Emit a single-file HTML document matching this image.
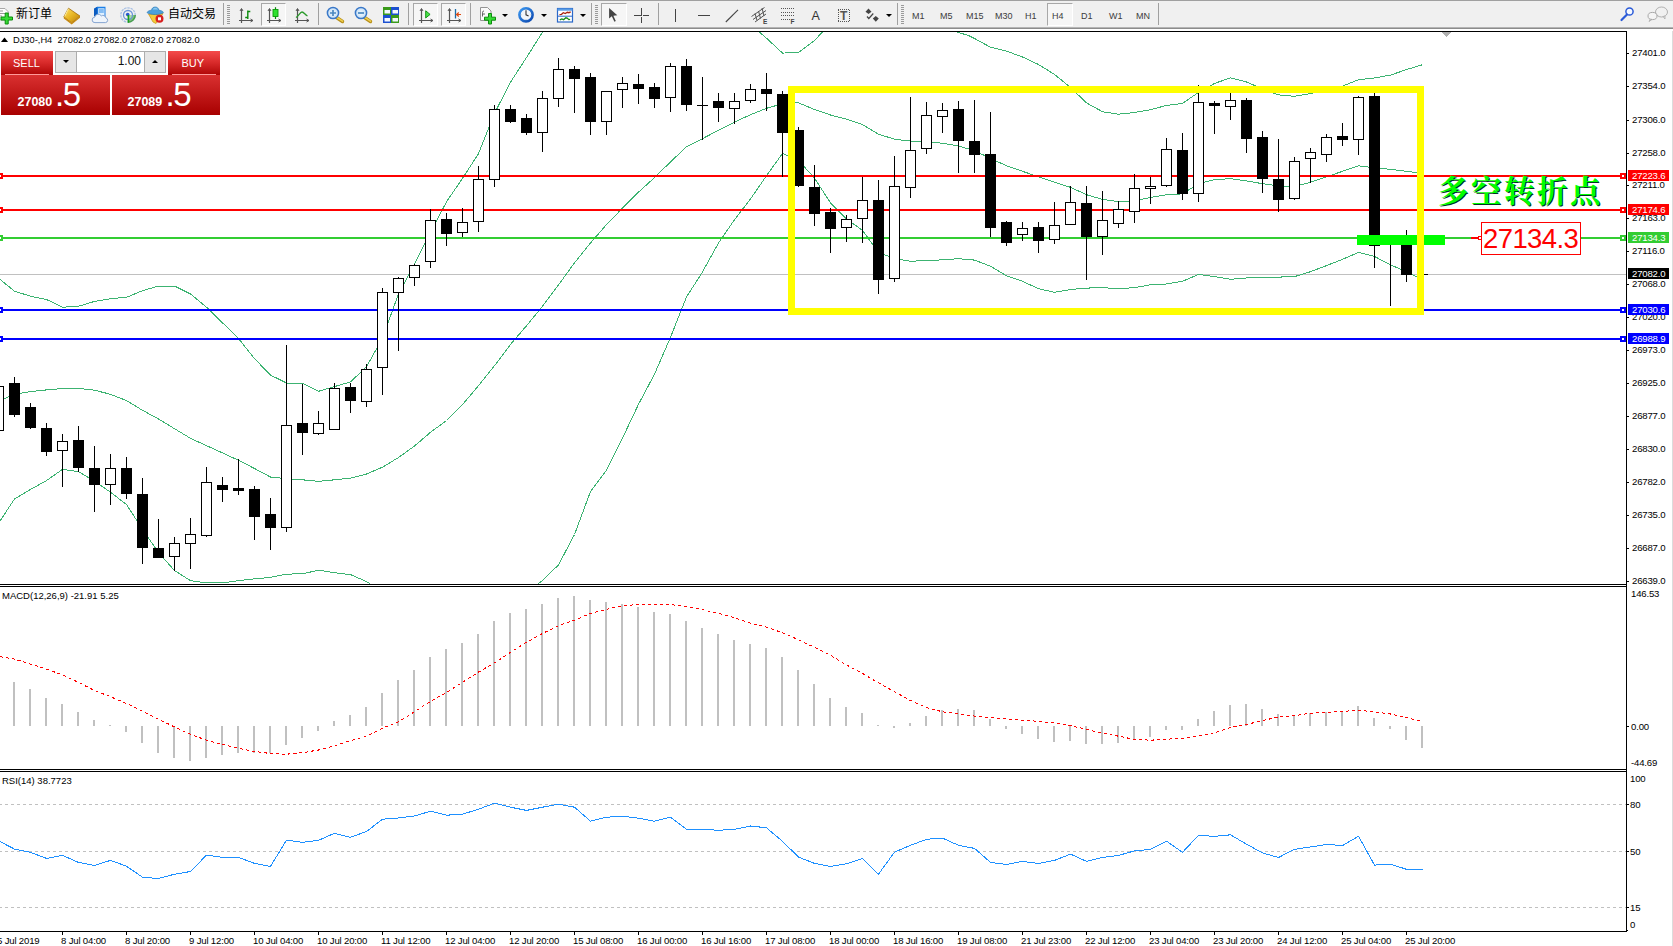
<!DOCTYPE html><html><head><meta charset="utf-8"><title>DJ30-,H4</title><style>
*{margin:0;padding:0;box-sizing:border-box}
html,body{width:1673px;height:946px;overflow:hidden;background:#fff}
body{position:relative;font-family:"Liberation Sans","Noto Sans CJK SC",sans-serif;color:#000}
#tb{position:absolute;left:0;top:0;width:1673px;height:31px;background:#f0f0f0;border-top:1px solid #a0a0a0}
#tb .sh1{position:absolute;left:0;top:26px;width:1673px;height:1px;background:#b4b4b4}
#tb .sh2{position:absolute;left:0;top:27px;width:1673px;height:1px;background:#8c8c8c}
#tb .wh{position:absolute;left:0;top:28px;width:1673px;height:2px;background:#fff}
.t{position:absolute;white-space:nowrap}
.tf{position:absolute;top:9.5px;font-size:9px;color:#3c3c3c;white-space:nowrap;line-height:10px}
.sep{position:absolute;top:2px;width:1px;height:22px;background:#a0a0a0}
.grip{position:absolute;top:3px;width:3px;height:20px;background:repeating-linear-gradient(#f0f0f0 0 1px,#9a9a9a 1px 2px)}
.frm{position:absolute;top:2px;height:23px;border:1px solid #a8a8a8;border-right-color:#fff;border-bottom-color:#fff;background:#f6f6f6}
.dd{position:absolute;top:13px;width:0;height:0;border-left:3px solid transparent;border-right:3px solid transparent;border-top:3px solid #000}
svg{position:absolute;left:0;top:0}
.ax{font-size:9.6px;letter-spacing:-0.18px;fill:#000;font-family:"Liberation Sans",sans-serif}
.axw{font-size:9.6px;letter-spacing:-0.18px;fill:#fff;font-family:"Liberation Sans",sans-serif}
#hdr{left:13px;top:34.5px;font-size:9.3px;line-height:11px}
#one{position:absolute;left:1px;top:51px;width:220px;height:64px}
.rb{position:absolute;background:linear-gradient(#f44b4b,#d82a2a 45%,#a80000);color:#fff}
.big{position:absolute;letter-spacing:-1.5px;font-size:33px;line-height:33px;color:#fff;white-space:nowrap}
.sm{position:absolute;font-size:12.5px;font-weight:bold;line-height:13px;color:#fff;white-space:nowrap}
.lab{position:absolute;font-size:11px;line-height:12px;color:#fff;white-space:nowrap}
#kai{left:1438px;top:167px;font-family:"Noto Serif CJK SC","Noto Sans CJK SC",serif;font-weight:700;font-size:30.5px;line-height:44px;color:#0f0;text-shadow:1px 1px 0 #032;letter-spacing:2.5px;white-space:nowrap}
#pl{left:1481px;top:222px;width:100px;height:33px;border:1px solid #f00;background:#fff;color:#f00;font-size:27.5px;letter-spacing:-0.6px;line-height:32px;padding-left:1px;white-space:nowrap}
</style></head><body>
<svg width="1673" height="946" viewBox="0 0 1673 946" shape-rendering="crispEdges">
<defs><clipPath id="cm"><rect x="0" y="32" width="1626" height="552"/></clipPath><clipPath id="c2"><rect x="0" y="587" width="1626" height="182"/></clipPath><clipPath id="c3"><rect x="0" y="772" width="1626" height="158"/></clipPath></defs>
<rect x="0" y="31" width="1627" height="1" fill="#000"/>
<rect x="1626" y="31" width="1" height="901" fill="#000"/>
<rect x="0" y="584" width="1627" height="1" fill="#000"/><rect x="0" y="586" width="1627" height="1" fill="#000"/>
<rect x="0" y="769" width="1627" height="1" fill="#000"/><rect x="0" y="771" width="1627" height="1" fill="#000"/>
<rect x="0" y="931" width="1627" height="1" fill="#000"/><rect x="1627" y="930" width="1" height="1" fill="#000"/>
<rect x="1672" y="29" width="1" height="917" fill="#dcdcdc"/>
<g clip-path="url(#cm)">
<rect x="0" y="274" width="1626" height="1" fill="#c0c0c0"/>
<polyline points="0.0,279.4 14.5,291.2 30.5,296.2 46.5,299.5 62.5,307.2 78.5,306.3 94.5,301.4 110.5,298.7 126.5,297.3 142.5,290.7 158.5,286.0 174.5,286.0 190.5,294.0 206.5,307.2 222.5,322.8 238.5,338.5 254.5,358.6 270.5,375.1 286.5,383.0 302.5,383.3 318.5,391.3 334.5,386.6 350.5,381.9 366.5,366.8 382.5,338.0 398.5,294.0 414.5,264.0 430.5,232.6 446.5,201.8 462.5,178.4 478.5,153.7 494.5,113.3 510.5,82.2 526.5,57.5 542.5,32.2 558.0,5.0" fill="none" stroke="#3cb371" stroke-width="1"/>
<polyline points="750.0,12.0 758.8,31.5 766.5,38.2 782.5,53.1 798.5,52.4 814.5,40.5 822.9,31.5 832.0,20.0" fill="none" stroke="#3cb371" stroke-width="1"/>
<polyline points="946.0,26.0 954.7,31.5 958.5,32.5 968.5,35.5 974.5,38.5 990.5,47.2 1006.5,51.1 1022.5,57.0 1038.5,64.5 1054.5,74.4 1070.5,87.5 1086.5,102.9 1102.5,111.7 1118.5,114.2 1134.5,112.5 1150.5,109.7 1166.5,105.4 1182.5,103.4 1198.5,92.4 1214.5,83.4 1230.5,77.9 1246.5,82.0 1262.5,88.9 1278.5,94.9 1294.5,96.3 1310.5,93.5 1326.5,89.7 1342.5,86.1 1358.5,79.8 1374.5,77.9 1390.5,75.1 1406.5,69.6 1422.5,64.7" fill="none" stroke="#3cb371" stroke-width="1"/>
<polyline points="0.0,400.6 14.5,394.3 30.5,391.6 46.5,389.9 62.5,388.5 78.5,388.3 94.5,390.2 110.5,394.3 126.5,400.6 142.5,410.3 158.5,419.0 174.5,428.7 190.5,438.3 206.5,445.7 222.5,452.9 238.5,460.3 254.5,468.5 270.5,477.0 286.5,478.7 302.5,479.8 318.5,481.4 334.5,479.8 350.5,478.1 366.5,474.0 382.5,467.2 398.5,457.5 414.5,446.0 430.5,432.3 446.5,420.5 462.5,404.6 478.5,385.7 494.5,365.7 510.5,344.4 526.5,325.8 542.5,306.2 558.5,285.0 574.5,262.8 590.5,243.0 606.5,224.6 622.5,208.1 638.5,192.2 654.5,177.6 670.5,161.9 686.5,146.8 702.5,138.6 718.5,130.3 734.5,122.1 750.5,114.7 766.5,108.3 782.5,103.7 798.5,102.8 814.5,109.5 830.5,115.0 846.5,119.1 862.5,124.6 878.5,134.2 894.5,139.2 910.5,141.1 926.5,141.6 942.5,143.3 958.5,146.0 974.5,150.7 990.5,158.4 1006.5,165.8 1022.5,171.3 1038.5,176.8 1054.5,182.3 1070.5,187.3 1086.5,194.7 1102.5,199.4 1118.5,201.6 1134.5,200.7 1150.5,197.4 1166.5,194.7 1182.5,193.9 1198.5,183.7 1214.5,179.6 1230.5,178.7 1246.5,180.9 1262.5,183.7 1278.5,185.9 1294.5,186.4 1310.5,182.3 1326.5,176.8 1342.5,171.3 1358.5,165.8 1374.5,167.8 1390.5,169.4 1406.5,171.3 1422.5,173.2" fill="none" stroke="#3cb371" stroke-width="1"/>
<polyline points="0.0,521.0 14.5,499.0 30.5,489.4 46.5,480.6 62.5,469.4 78.5,471.6 94.5,481.2 110.5,492.2 126.5,504.5 142.5,529.3 158.5,552.6 174.5,570.5 190.5,580.7 206.5,582.9 222.5,582.9 238.5,580.7 254.5,578.8 270.5,577.4 286.5,574.1 302.5,573.8 318.5,570.2 334.5,572.7 350.5,574.6 366.5,581.5 382.5,592.0" fill="none" stroke="#3cb371" stroke-width="1"/>
<polyline points="530.0,592.0 538.0,583.8 542.5,580.4 558.5,564.9 574.5,534.5 590.5,491.5 606.5,470.2 622.5,438.1 638.5,404.3 654.5,374.2 670.5,337.3 686.5,297.0 702.5,271.9 718.5,243.0 734.5,219.7 750.5,199.0 766.5,175.7 782.5,153.5 798.5,160.3 814.5,178.2 830.5,202.9 846.5,218.9 862.5,230.4 878.5,252.4 894.5,258.5 910.5,261.2 926.5,260.7 942.5,259.8 958.5,258.7 974.5,260.1 990.5,266.2 1006.5,275.8 1022.5,281.3 1038.5,288.7 1054.5,292.3 1070.5,289.5 1086.5,288.1 1102.5,287.6 1118.5,288.7 1134.5,287.6 1150.5,284.8 1166.5,284.0 1182.5,281.3 1198.5,274.4 1214.5,276.6 1230.5,279.3 1246.5,278.0 1262.5,277.1 1278.5,277.1 1294.5,276.6 1310.5,271.7 1326.5,265.6 1342.5,259.3 1358.5,252.4 1374.5,256.5 1390.5,264.8 1406.5,271.7 1422.5,279.5" fill="none" stroke="#3cb371" stroke-width="1"/>
<rect x="0" y="175" width="1626" height="2" fill="#f00"/>
<rect x="0" y="209" width="1626" height="2" fill="#f00"/>
<rect x="0" y="237" width="1626" height="2" fill="#32cd32"/>
<rect x="0" y="309" width="1626" height="2" fill="#00f"/>
<rect x="0" y="338" width="1626" height="2" fill="#00f"/>
<rect x="1620" y="173" width="6" height="6" fill="#f00"/><rect x="1622" y="175" width="2" height="2" fill="#fff"/>
<rect x="-3" y="173" width="6" height="6" fill="#f00"/><rect x="-1" y="175" width="2" height="2" fill="#fff"/>
<rect x="1620" y="207" width="6" height="6" fill="#f00"/><rect x="1622" y="209" width="2" height="2" fill="#fff"/>
<rect x="-3" y="207" width="6" height="6" fill="#f00"/><rect x="-1" y="209" width="2" height="2" fill="#fff"/>
<rect x="1620" y="235" width="6" height="6" fill="#32cd32"/><rect x="1622" y="237" width="2" height="2" fill="#fff"/>
<rect x="-3" y="235" width="6" height="6" fill="#32cd32"/><rect x="-1" y="237" width="2" height="2" fill="#fff"/>
<rect x="1620" y="307" width="6" height="6" fill="#00f"/><rect x="1622" y="309" width="2" height="2" fill="#fff"/>
<rect x="-3" y="307" width="6" height="6" fill="#00f"/><rect x="-1" y="309" width="2" height="2" fill="#fff"/>
<rect x="1620" y="336" width="6" height="6" fill="#00f"/><rect x="1622" y="338" width="2" height="2" fill="#fff"/>
<rect x="-3" y="336" width="6" height="6" fill="#00f"/><rect x="-1" y="338" width="2" height="2" fill="#fff"/>
<rect x="-2" y="386" width="1" height="44" fill="#000"/>
<rect x="-6.5" y="386.5" width="10" height="44" fill="#fff" stroke="#000" stroke-width="1"/>
<rect x="14" y="377" width="1" height="40" fill="#000"/>
<rect x="9" y="383" width="11" height="32" fill="#000"/>
<rect x="30" y="403" width="1" height="26" fill="#000"/>
<rect x="25" y="407" width="11" height="21" fill="#000"/>
<rect x="46" y="423" width="1" height="33" fill="#000"/>
<rect x="41" y="428" width="11" height="24" fill="#000"/>
<rect x="62" y="434" width="1" height="53" fill="#000"/>
<rect x="57.5" y="441.5" width="10" height="9" fill="#fff" stroke="#000" stroke-width="1"/>
<rect x="78" y="426" width="1" height="46" fill="#000"/>
<rect x="73" y="440" width="11" height="28" fill="#000"/>
<rect x="94" y="446" width="1" height="66" fill="#000"/>
<rect x="89" y="468" width="11" height="17" fill="#000"/>
<rect x="110" y="454" width="1" height="51" fill="#000"/>
<rect x="105.5" y="468.5" width="10" height="16" fill="#fff" stroke="#000" stroke-width="1"/>
<rect x="126" y="457" width="1" height="42" fill="#000"/>
<rect x="121" y="468" width="11" height="26" fill="#000"/>
<rect x="142" y="478" width="1" height="86" fill="#000"/>
<rect x="137" y="494" width="11" height="54" fill="#000"/>
<rect x="158" y="519" width="1" height="39" fill="#000"/>
<rect x="153" y="548" width="11" height="10" fill="#000"/>
<rect x="174" y="537" width="1" height="34" fill="#000"/>
<rect x="169.5" y="543.5" width="10" height="13" fill="#fff" stroke="#000" stroke-width="1"/>
<rect x="190" y="518" width="1" height="51" fill="#000"/>
<rect x="185.5" y="534.5" width="10" height="9" fill="#fff" stroke="#000" stroke-width="1"/>
<rect x="206" y="467" width="1" height="70" fill="#000"/>
<rect x="201.5" y="482.5" width="10" height="53" fill="#fff" stroke="#000" stroke-width="1"/>
<rect x="222" y="477" width="1" height="25" fill="#000"/>
<rect x="217" y="485" width="11" height="5" fill="#000"/>
<rect x="238" y="459" width="1" height="36" fill="#000"/>
<rect x="233" y="488" width="11" height="3" fill="#000"/>
<rect x="254" y="486" width="1" height="54" fill="#000"/>
<rect x="249" y="489" width="11" height="28" fill="#000"/>
<rect x="270" y="498" width="1" height="52" fill="#000"/>
<rect x="265" y="514" width="11" height="14" fill="#000"/>
<rect x="286" y="345" width="1" height="187" fill="#000"/>
<rect x="281.5" y="425.5" width="10" height="102" fill="#fff" stroke="#000" stroke-width="1"/>
<rect x="302" y="384" width="1" height="71" fill="#000"/>
<rect x="297" y="423" width="11" height="10" fill="#000"/>
<rect x="318" y="411" width="1" height="24" fill="#000"/>
<rect x="313.5" y="423.5" width="10" height="10" fill="#fff" stroke="#000" stroke-width="1"/>
<rect x="334" y="383" width="1" height="46" fill="#000"/>
<rect x="329.5" y="388.5" width="10" height="41" fill="#fff" stroke="#000" stroke-width="1"/>
<rect x="350" y="383" width="1" height="30" fill="#000"/>
<rect x="345" y="387" width="11" height="14" fill="#000"/>
<rect x="366" y="364" width="1" height="43" fill="#000"/>
<rect x="361.5" y="369.5" width="10" height="32" fill="#fff" stroke="#000" stroke-width="1"/>
<rect x="382" y="288" width="1" height="107" fill="#000"/>
<rect x="377.5" y="292.5" width="10" height="75" fill="#fff" stroke="#000" stroke-width="1"/>
<rect x="398" y="277" width="1" height="74" fill="#000"/>
<rect x="393.5" y="278.5" width="10" height="14" fill="#fff" stroke="#000" stroke-width="1"/>
<rect x="414" y="264" width="1" height="22" fill="#000"/>
<rect x="409.5" y="265.5" width="10" height="12" fill="#fff" stroke="#000" stroke-width="1"/>
<rect x="430" y="209" width="1" height="59" fill="#000"/>
<rect x="425.5" y="220.5" width="10" height="41" fill="#fff" stroke="#000" stroke-width="1"/>
<rect x="446" y="213" width="1" height="33" fill="#000"/>
<rect x="441" y="219" width="11" height="15" fill="#000"/>
<rect x="462" y="208" width="1" height="29" fill="#000"/>
<rect x="457.5" y="222.5" width="10" height="10" fill="#fff" stroke="#000" stroke-width="1"/>
<rect x="478" y="166" width="1" height="66" fill="#000"/>
<rect x="473.5" y="179.5" width="10" height="42" fill="#fff" stroke="#000" stroke-width="1"/>
<rect x="494" y="105" width="1" height="82" fill="#000"/>
<rect x="489.5" y="109.5" width="10" height="70" fill="#fff" stroke="#000" stroke-width="1"/>
<rect x="510" y="105" width="1" height="18" fill="#000"/>
<rect x="505" y="109" width="11" height="13" fill="#000"/>
<rect x="526" y="114" width="1" height="21" fill="#000"/>
<rect x="521" y="118" width="11" height="15" fill="#000"/>
<rect x="542" y="91" width="1" height="61" fill="#000"/>
<rect x="537.5" y="98.5" width="10" height="34" fill="#fff" stroke="#000" stroke-width="1"/>
<rect x="558" y="58" width="1" height="49" fill="#000"/>
<rect x="553.5" y="69.5" width="10" height="29" fill="#fff" stroke="#000" stroke-width="1"/>
<rect x="574" y="66" width="1" height="47" fill="#000"/>
<rect x="569" y="69" width="11" height="10" fill="#000"/>
<rect x="590" y="73" width="1" height="62" fill="#000"/>
<rect x="585" y="77" width="11" height="45" fill="#000"/>
<rect x="606" y="91" width="1" height="44" fill="#000"/>
<rect x="601.5" y="91.5" width="10" height="30" fill="#fff" stroke="#000" stroke-width="1"/>
<rect x="622" y="77" width="1" height="31" fill="#000"/>
<rect x="617.5" y="83.5" width="10" height="6" fill="#fff" stroke="#000" stroke-width="1"/>
<rect x="638" y="74" width="1" height="30" fill="#000"/>
<rect x="633" y="84" width="11" height="5" fill="#000"/>
<rect x="654" y="83" width="1" height="25" fill="#000"/>
<rect x="649" y="87" width="11" height="12" fill="#000"/>
<rect x="670" y="63" width="1" height="49" fill="#000"/>
<rect x="665.5" y="66.5" width="10" height="31" fill="#fff" stroke="#000" stroke-width="1"/>
<rect x="686" y="59" width="1" height="52" fill="#000"/>
<rect x="681" y="66" width="11" height="39" fill="#000"/>
<rect x="702" y="77" width="1" height="63" fill="#000"/>
<rect x="697" y="105" width="11" height="1" fill="#000"/>
<rect x="718" y="93" width="1" height="29" fill="#000"/>
<rect x="713" y="101" width="11" height="7" fill="#000"/>
<rect x="734" y="93" width="1" height="31" fill="#000"/>
<rect x="729.5" y="101.5" width="10" height="7" fill="#fff" stroke="#000" stroke-width="1"/>
<rect x="750" y="84" width="1" height="19" fill="#000"/>
<rect x="745.5" y="89.5" width="10" height="11" fill="#fff" stroke="#000" stroke-width="1"/>
<rect x="766" y="73" width="1" height="38" fill="#000"/>
<rect x="761" y="89" width="11" height="5" fill="#000"/>
<rect x="782" y="91" width="1" height="86" fill="#000"/>
<rect x="777" y="94" width="11" height="39" fill="#000"/>
<rect x="798" y="127" width="1" height="60" fill="#000"/>
<rect x="793" y="130" width="11" height="56" fill="#000"/>
<rect x="814" y="165" width="1" height="61" fill="#000"/>
<rect x="809" y="187" width="11" height="27" fill="#000"/>
<rect x="830" y="208" width="1" height="45" fill="#000"/>
<rect x="825" y="212" width="11" height="17" fill="#000"/>
<rect x="846" y="215" width="1" height="27" fill="#000"/>
<rect x="841.5" y="219.5" width="10" height="8" fill="#fff" stroke="#000" stroke-width="1"/>
<rect x="862" y="177" width="1" height="66" fill="#000"/>
<rect x="857.5" y="200.5" width="10" height="18" fill="#fff" stroke="#000" stroke-width="1"/>
<rect x="878" y="180" width="1" height="114" fill="#000"/>
<rect x="873" y="200" width="11" height="80" fill="#000"/>
<rect x="894" y="156" width="1" height="126" fill="#000"/>
<rect x="889.5" y="186.5" width="10" height="92" fill="#fff" stroke="#000" stroke-width="1"/>
<rect x="910" y="97" width="1" height="101" fill="#000"/>
<rect x="905.5" y="150.5" width="10" height="37" fill="#fff" stroke="#000" stroke-width="1"/>
<rect x="926" y="102" width="1" height="52" fill="#000"/>
<rect x="921.5" y="115.5" width="10" height="33" fill="#fff" stroke="#000" stroke-width="1"/>
<rect x="942" y="103" width="1" height="30" fill="#000"/>
<rect x="937.5" y="110.5" width="10" height="6" fill="#fff" stroke="#000" stroke-width="1"/>
<rect x="958" y="101" width="1" height="72" fill="#000"/>
<rect x="953" y="109" width="11" height="32" fill="#000"/>
<rect x="974" y="100" width="1" height="73" fill="#000"/>
<rect x="969" y="141" width="11" height="14" fill="#000"/>
<rect x="990" y="112" width="1" height="125" fill="#000"/>
<rect x="985" y="154" width="11" height="74" fill="#000"/>
<rect x="1006" y="221" width="1" height="25" fill="#000"/>
<rect x="1001" y="222" width="11" height="21" fill="#000"/>
<rect x="1022" y="222" width="1" height="19" fill="#000"/>
<rect x="1017.5" y="228.5" width="10" height="6" fill="#fff" stroke="#000" stroke-width="1"/>
<rect x="1038" y="222" width="1" height="31" fill="#000"/>
<rect x="1033" y="227" width="11" height="14" fill="#000"/>
<rect x="1054" y="202" width="1" height="42" fill="#000"/>
<rect x="1049.5" y="225.5" width="10" height="14" fill="#fff" stroke="#000" stroke-width="1"/>
<rect x="1070" y="186" width="1" height="39" fill="#000"/>
<rect x="1065.5" y="202.5" width="10" height="22" fill="#fff" stroke="#000" stroke-width="1"/>
<rect x="1086" y="186" width="1" height="94" fill="#000"/>
<rect x="1081" y="203" width="11" height="34" fill="#000"/>
<rect x="1102" y="191" width="1" height="64" fill="#000"/>
<rect x="1097.5" y="220.5" width="10" height="16" fill="#fff" stroke="#000" stroke-width="1"/>
<rect x="1118" y="201" width="1" height="27" fill="#000"/>
<rect x="1113.5" y="209.5" width="10" height="14" fill="#fff" stroke="#000" stroke-width="1"/>
<rect x="1134" y="174" width="1" height="49" fill="#000"/>
<rect x="1129.5" y="188.5" width="10" height="23" fill="#fff" stroke="#000" stroke-width="1"/>
<rect x="1150" y="177" width="1" height="27" fill="#000"/>
<rect x="1145.5" y="186.5" width="10" height="2" fill="#fff" stroke="#000" stroke-width="1"/>
<rect x="1166" y="138" width="1" height="49" fill="#000"/>
<rect x="1161.5" y="149.5" width="10" height="36" fill="#fff" stroke="#000" stroke-width="1"/>
<rect x="1182" y="133" width="1" height="67" fill="#000"/>
<rect x="1177" y="150" width="11" height="44" fill="#000"/>
<rect x="1198" y="85" width="1" height="117" fill="#000"/>
<rect x="1193.5" y="102.5" width="10" height="91" fill="#fff" stroke="#000" stroke-width="1"/>
<rect x="1214" y="101" width="1" height="33" fill="#000"/>
<rect x="1209" y="103" width="11" height="3" fill="#000"/>
<rect x="1230" y="93" width="1" height="27" fill="#000"/>
<rect x="1225.5" y="100.5" width="10" height="6" fill="#fff" stroke="#000" stroke-width="1"/>
<rect x="1246" y="98" width="1" height="55" fill="#000"/>
<rect x="1241" y="100" width="11" height="39" fill="#000"/>
<rect x="1262" y="131" width="1" height="62" fill="#000"/>
<rect x="1257" y="137" width="11" height="42" fill="#000"/>
<rect x="1278" y="139" width="1" height="73" fill="#000"/>
<rect x="1273" y="179" width="11" height="21" fill="#000"/>
<rect x="1294" y="157" width="1" height="43" fill="#000"/>
<rect x="1289.5" y="161.5" width="10" height="37" fill="#fff" stroke="#000" stroke-width="1"/>
<rect x="1310" y="148" width="1" height="35" fill="#000"/>
<rect x="1305.5" y="152.5" width="10" height="6" fill="#fff" stroke="#000" stroke-width="1"/>
<rect x="1326" y="134" width="1" height="28" fill="#000"/>
<rect x="1321.5" y="137.5" width="10" height="17" fill="#fff" stroke="#000" stroke-width="1"/>
<rect x="1342" y="123" width="1" height="23" fill="#000"/>
<rect x="1337" y="136" width="11" height="4" fill="#000"/>
<rect x="1358" y="96" width="1" height="59" fill="#000"/>
<rect x="1353.5" y="97.5" width="10" height="42" fill="#fff" stroke="#000" stroke-width="1"/>
<rect x="1374" y="93" width="1" height="175" fill="#000"/>
<rect x="1369" y="96" width="11" height="150" fill="#000"/>
<rect x="1390" y="236" width="1" height="70" fill="#000"/>
<rect x="1385" y="244" width="11" height="1" fill="#000"/>
<rect x="1406" y="230" width="1" height="52" fill="#000"/>
<rect x="1401" y="245" width="11" height="30" fill="#000"/>
<rect x="1417" y="274" width="11" height="1" fill="#000"/>
<rect x="1357" y="235" width="88" height="10" fill="#0f0"/>
<rect x="791.5" y="89.5" width="629" height="222" fill="none" stroke="#ff0" stroke-width="7"/>
<rect x="1471" y="237" width="7" height="2" fill="#f00"/><rect x="1478" y="236" width="4" height="4" fill="#f00"/><rect x="1479" y="237" width="2" height="2" fill="#fff"/>
<polygon points="1441,32 1451,32 1446,37" fill="#b0b0b0"/>
</g>
<rect x="1627" y="53" width="2" height="1" fill="#000"/>
<text x="1632" y="56.4" class="ax">27401.0</text>
<rect x="1627" y="86" width="2" height="1" fill="#000"/>
<text x="1632" y="89.4" class="ax">27354.0</text>
<rect x="1627" y="120" width="2" height="1" fill="#000"/>
<text x="1632" y="123.4" class="ax">27306.0</text>
<rect x="1627" y="153" width="2" height="1" fill="#000"/>
<text x="1632" y="156.4" class="ax">27258.0</text>
<rect x="1627" y="185" width="2" height="1" fill="#000"/>
<text x="1632" y="188.4" class="ax">27211.0</text>
<rect x="1627" y="218" width="2" height="1" fill="#000"/>
<text x="1632" y="221.4" class="ax">27163.0</text>
<rect x="1627" y="251" width="2" height="1" fill="#000"/>
<text x="1632" y="254.4" class="ax">27116.0</text>
<rect x="1627" y="284" width="2" height="1" fill="#000"/>
<text x="1632" y="287.4" class="ax">27068.0</text>
<rect x="1627" y="317" width="2" height="1" fill="#000"/>
<text x="1632" y="320.4" class="ax">27020.0</text>
<rect x="1627" y="350" width="2" height="1" fill="#000"/>
<text x="1632" y="353.4" class="ax">26973.0</text>
<rect x="1627" y="383" width="2" height="1" fill="#000"/>
<text x="1632" y="386.4" class="ax">26925.0</text>
<rect x="1627" y="416" width="2" height="1" fill="#000"/>
<text x="1632" y="419.4" class="ax">26877.0</text>
<rect x="1627" y="449" width="2" height="1" fill="#000"/>
<text x="1632" y="452.4" class="ax">26830.0</text>
<rect x="1627" y="482" width="2" height="1" fill="#000"/>
<text x="1632" y="485.4" class="ax">26782.0</text>
<rect x="1627" y="515" width="2" height="1" fill="#000"/>
<text x="1632" y="518.4" class="ax">26735.0</text>
<rect x="1627" y="548" width="2" height="1" fill="#000"/>
<text x="1632" y="551.4" class="ax">26687.0</text>
<rect x="1627" y="581" width="2" height="1" fill="#000"/>
<text x="1632" y="584.4" class="ax">26639.0</text>
<rect x="1628" y="170" width="41" height="11" fill="#f00"/>
<text x="1632" y="178.6" class="axw">27223.6</text>
<rect x="1628" y="204" width="41" height="11" fill="#f00"/>
<text x="1632" y="212.6" class="axw">27174.6</text>
<rect x="1628" y="232" width="41" height="11" fill="#32cd32"/>
<text x="1632" y="240.6" class="axw">27134.3</text>
<rect x="1628" y="268" width="41" height="11" fill="#000"/>
<text x="1632" y="276.6" class="axw">27082.0</text>
<rect x="1628" y="304" width="41" height="11" fill="#00f"/>
<text x="1632" y="312.6" class="axw">27030.6</text>
<rect x="1628" y="333" width="41" height="11" fill="#00f"/>
<text x="1632" y="341.6" class="axw">26988.9</text>
<g clip-path="url(#c2)">
<rect x="13" y="682" width="2" height="44" fill="#c0c0c0"/>
<rect x="29" y="689" width="2" height="37" fill="#c0c0c0"/>
<rect x="45" y="698" width="2" height="28" fill="#c0c0c0"/>
<rect x="61" y="704" width="2" height="22" fill="#c0c0c0"/>
<rect x="77" y="712" width="2" height="14" fill="#c0c0c0"/>
<rect x="93" y="720" width="2" height="6" fill="#c0c0c0"/>
<rect x="109" y="725" width="2" height="1" fill="#c0c0c0"/>
<rect x="125" y="726" width="2" height="6" fill="#c0c0c0"/>
<rect x="141" y="726" width="2" height="17" fill="#c0c0c0"/>
<rect x="157" y="726" width="2" height="27" fill="#c0c0c0"/>
<rect x="173" y="726" width="2" height="32" fill="#c0c0c0"/>
<rect x="189" y="726" width="2" height="35" fill="#c0c0c0"/>
<rect x="205" y="726" width="2" height="32" fill="#c0c0c0"/>
<rect x="221" y="726" width="2" height="29" fill="#c0c0c0"/>
<rect x="237" y="726" width="2" height="27" fill="#c0c0c0"/>
<rect x="253" y="726" width="2" height="27" fill="#c0c0c0"/>
<rect x="269" y="726" width="2" height="27" fill="#c0c0c0"/>
<rect x="285" y="726" width="2" height="19" fill="#c0c0c0"/>
<rect x="301" y="726" width="2" height="12" fill="#c0c0c0"/>
<rect x="317" y="726" width="2" height="5" fill="#c0c0c0"/>
<rect x="333" y="721" width="2" height="5" fill="#c0c0c0"/>
<rect x="349" y="715" width="2" height="11" fill="#c0c0c0"/>
<rect x="365" y="707" width="2" height="19" fill="#c0c0c0"/>
<rect x="381" y="693" width="2" height="33" fill="#c0c0c0"/>
<rect x="397" y="680" width="2" height="46" fill="#c0c0c0"/>
<rect x="413" y="670" width="2" height="56" fill="#c0c0c0"/>
<rect x="429" y="657" width="2" height="69" fill="#c0c0c0"/>
<rect x="445" y="649" width="2" height="77" fill="#c0c0c0"/>
<rect x="461" y="643" width="2" height="83" fill="#c0c0c0"/>
<rect x="477" y="634" width="2" height="92" fill="#c0c0c0"/>
<rect x="493" y="621" width="2" height="105" fill="#c0c0c0"/>
<rect x="509" y="613" width="2" height="113" fill="#c0c0c0"/>
<rect x="525" y="609" width="2" height="117" fill="#c0c0c0"/>
<rect x="541" y="604" width="2" height="122" fill="#c0c0c0"/>
<rect x="557" y="598" width="2" height="128" fill="#c0c0c0"/>
<rect x="573" y="596" width="2" height="130" fill="#c0c0c0"/>
<rect x="589" y="600" width="2" height="126" fill="#c0c0c0"/>
<rect x="605" y="602" width="2" height="124" fill="#c0c0c0"/>
<rect x="621" y="604" width="2" height="122" fill="#c0c0c0"/>
<rect x="637" y="607" width="2" height="119" fill="#c0c0c0"/>
<rect x="653" y="612" width="2" height="114" fill="#c0c0c0"/>
<rect x="669" y="614" width="2" height="112" fill="#c0c0c0"/>
<rect x="685" y="621" width="2" height="105" fill="#c0c0c0"/>
<rect x="701" y="628" width="2" height="98" fill="#c0c0c0"/>
<rect x="717" y="634" width="2" height="92" fill="#c0c0c0"/>
<rect x="733" y="640" width="2" height="86" fill="#c0c0c0"/>
<rect x="749" y="644" width="2" height="82" fill="#c0c0c0"/>
<rect x="765" y="648" width="2" height="78" fill="#c0c0c0"/>
<rect x="781" y="657" width="2" height="69" fill="#c0c0c0"/>
<rect x="797" y="670" width="2" height="56" fill="#c0c0c0"/>
<rect x="813" y="684" width="2" height="42" fill="#c0c0c0"/>
<rect x="829" y="698" width="2" height="28" fill="#c0c0c0"/>
<rect x="845" y="707" width="2" height="19" fill="#c0c0c0"/>
<rect x="861" y="713" width="2" height="13" fill="#c0c0c0"/>
<rect x="877" y="725" width="2" height="1" fill="#c0c0c0"/>
<rect x="893" y="726" width="2" height="2" fill="#c0c0c0"/>
<rect x="909" y="723" width="2" height="3" fill="#c0c0c0"/>
<rect x="925" y="716" width="2" height="10" fill="#c0c0c0"/>
<rect x="941" y="710" width="2" height="16" fill="#c0c0c0"/>
<rect x="957" y="709" width="2" height="17" fill="#c0c0c0"/>
<rect x="973" y="710" width="2" height="16" fill="#c0c0c0"/>
<rect x="989" y="719" width="2" height="7" fill="#c0c0c0"/>
<rect x="1005" y="726" width="2" height="3" fill="#c0c0c0"/>
<rect x="1021" y="726" width="2" height="8" fill="#c0c0c0"/>
<rect x="1037" y="726" width="2" height="13" fill="#c0c0c0"/>
<rect x="1053" y="726" width="2" height="16" fill="#c0c0c0"/>
<rect x="1069" y="726" width="2" height="15" fill="#c0c0c0"/>
<rect x="1085" y="726" width="2" height="18" fill="#c0c0c0"/>
<rect x="1101" y="726" width="2" height="18" fill="#c0c0c0"/>
<rect x="1117" y="726" width="2" height="17" fill="#c0c0c0"/>
<rect x="1133" y="726" width="2" height="14" fill="#c0c0c0"/>
<rect x="1149" y="726" width="2" height="11" fill="#c0c0c0"/>
<rect x="1165" y="726" width="2" height="4" fill="#c0c0c0"/>
<rect x="1181" y="726" width="2" height="4" fill="#c0c0c0"/>
<rect x="1197" y="719" width="2" height="7" fill="#c0c0c0"/>
<rect x="1213" y="711" width="2" height="15" fill="#c0c0c0"/>
<rect x="1229" y="705" width="2" height="21" fill="#c0c0c0"/>
<rect x="1245" y="704" width="2" height="22" fill="#c0c0c0"/>
<rect x="1261" y="709" width="2" height="17" fill="#c0c0c0"/>
<rect x="1277" y="714" width="2" height="12" fill="#c0c0c0"/>
<rect x="1293" y="715" width="2" height="11" fill="#c0c0c0"/>
<rect x="1309" y="713" width="2" height="13" fill="#c0c0c0"/>
<rect x="1325" y="712" width="2" height="14" fill="#c0c0c0"/>
<rect x="1341" y="711" width="2" height="15" fill="#c0c0c0"/>
<rect x="1357" y="706" width="2" height="20" fill="#c0c0c0"/>
<rect x="1373" y="718" width="2" height="8" fill="#c0c0c0"/>
<rect x="1389" y="726" width="2" height="3" fill="#c0c0c0"/>
<rect x="1405" y="726" width="2" height="14" fill="#c0c0c0"/>
<rect x="1421" y="726" width="2" height="22" fill="#c0c0c0"/>
<polyline points="0.0,656.6 14.5,659.1 30.5,664.1 46.5,669.1 62.5,674.9 78.5,682.4 94.5,690.5 110.5,696.7 126.5,703.5 142.5,711.1 158.5,719.3 174.5,726.9 190.5,734.4 206.5,740.2 222.5,744.5 238.5,748.2 254.5,751.5 270.5,753.5 286.5,754.2 302.5,752.7 318.5,750.0 334.5,745.7 350.5,740.7 366.5,736.2 382.5,728.1 398.5,721.9 414.5,711.8 430.5,701.3 446.5,692.5 462.5,682.2 478.5,672.1 494.5,662.9 510.5,652.3 526.5,642.3 542.5,633.5 558.5,625.7 574.5,620.2 590.5,613.4 606.5,609.4 622.5,605.6 638.5,604.6 654.5,604.6 670.5,604.6 686.5,606.4 702.5,609.6 718.5,613.4 734.5,617.7 750.5,623.2 766.5,627.2 782.5,632.7 798.5,639.8 814.5,647.3 830.5,655.3 846.5,664.9 862.5,673.4 878.5,682.9 894.5,691.7 910.5,700.5 926.5,707.5 942.5,711.8 958.5,713.8 974.5,716.1 990.5,717.6 1006.5,718.8 1022.5,720.1 1038.5,721.4 1054.5,723.1 1070.5,725.6 1086.5,729.4 1102.5,733.2 1118.5,736.2 1134.5,739.4 1150.5,740.2 1166.5,739.2 1182.5,738.4 1198.5,736.2 1214.5,732.7 1230.5,727.6 1246.5,724.5 1262.5,720.5 1278.5,717.1 1294.5,715.7 1310.5,713.2 1326.5,712.3 1342.5,711.5 1358.5,710.1 1374.5,712.0 1390.5,714.0 1406.5,717.7 1422.5,721.4" fill="none" stroke="#f00" stroke-width="1" stroke-dasharray="3 3"/>
</g>
<text x="1631" y="596.5" class="ax">146.53</text>
<text x="1631" y="729.5" class="ax">0.00</text>
<text x="1631" y="765.5" class="ax">-44.69</text>
<rect x="1627" y="726" width="2" height="1" fill="#000"/>
<g clip-path="url(#c3)">
<line x1="0" y1="804.5" x2="1626" y2="804.5" stroke="#c0c0c0" stroke-width="1" stroke-dasharray="3 3" stroke-dashoffset="1"/>
<line x1="0" y1="851.5" x2="1626" y2="851.5" stroke="#c0c0c0" stroke-width="1" stroke-dasharray="3 3" stroke-dashoffset="1"/>
<line x1="0" y1="907.5" x2="1626" y2="907.5" stroke="#c0c0c0" stroke-width="1" stroke-dasharray="3 3" stroke-dashoffset="1"/>
<polyline points="0.0,841.6 14.5,849.1 30.5,852.4 46.5,858.4 62.5,855.4 78.5,862.4 94.5,865.4 110.5,860.4 126.5,866.2 142.5,877.2 158.5,878.5 174.5,874.2 190.5,871.5 206.5,855.1 222.5,857.4 238.5,857.4 254.5,863.4 270.5,866.4 286.5,840.1 302.5,842.3 318.5,840.3 334.5,833.3 350.5,837.3 366.5,831.5 382.5,819.2 398.5,818.0 414.5,816.0 430.5,811.2 446.5,815.2 462.5,814.2 478.5,809.2 494.5,803.2 510.5,807.2 526.5,810.4 542.5,807.2 558.5,804.2 574.5,807.2 590.5,821.2 606.5,817.2 622.5,816.2 638.5,818.2 654.5,821.2 670.5,817.2 686.5,829.3 702.5,829.3 718.5,830.3 734.5,829.3 750.5,826.0 766.5,827.8 782.5,841.3 798.5,857.1 814.5,863.4 830.5,866.4 846.5,863.7 862.5,858.4 878.5,874.2 894.5,852.1 910.5,845.3 926.5,839.3 942.5,838.1 958.5,845.3 974.5,848.4 990.5,862.4 1006.5,864.4 1022.5,861.4 1038.5,863.4 1054.5,860.4 1070.5,854.1 1086.5,861.4 1102.5,857.4 1118.5,855.4 1134.5,850.9 1150.5,849.4 1166.5,841.1 1182.5,852.4 1198.5,835.3 1214.5,836.4 1230.5,834.8 1246.5,844.2 1262.5,852.9 1278.5,857.5 1294.5,849.3 1310.5,847.0 1326.5,844.4 1342.5,845.6 1358.5,836.2 1374.5,865.1 1390.5,864.2 1406.5,869.3 1422.5,869.3" fill="none" stroke="#1e90ff" stroke-width="1"/>
</g>
<text x="1630" y="782.0" class="ax">100</text>
<text x="1630" y="808.0" class="ax">80</text>
<text x="1630" y="855.0" class="ax">50</text>
<text x="1630" y="911.0" class="ax">15</text>
<text x="1630" y="928.0" class="ax">0</text>
<rect x="1627" y="804" width="2" height="1" fill="#000"/>
<rect x="1627" y="851" width="2" height="1" fill="#000"/>
<rect x="1627" y="907" width="2" height="1" fill="#000"/>
<text x="-3" y="943.6" class="ax">5 Jul 2019</text>
<rect x="62" y="932" width="1" height="3" fill="#000"/>
<text x="61" y="943.6" class="ax">8 Jul 04:00</text>
<rect x="126" y="932" width="1" height="3" fill="#000"/>
<text x="125" y="943.6" class="ax">8 Jul 20:00</text>
<rect x="190" y="932" width="1" height="3" fill="#000"/>
<text x="189" y="943.6" class="ax">9 Jul 12:00</text>
<rect x="254" y="932" width="1" height="3" fill="#000"/>
<text x="253" y="943.6" class="ax">10 Jul 04:00</text>
<rect x="318" y="932" width="1" height="3" fill="#000"/>
<text x="317" y="943.6" class="ax">10 Jul 20:00</text>
<rect x="382" y="932" width="1" height="3" fill="#000"/>
<text x="381" y="943.6" class="ax">11 Jul 12:00</text>
<rect x="446" y="932" width="1" height="3" fill="#000"/>
<text x="445" y="943.6" class="ax">12 Jul 04:00</text>
<rect x="510" y="932" width="1" height="3" fill="#000"/>
<text x="509" y="943.6" class="ax">12 Jul 20:00</text>
<rect x="574" y="932" width="1" height="3" fill="#000"/>
<text x="573" y="943.6" class="ax">15 Jul 08:00</text>
<rect x="638" y="932" width="1" height="3" fill="#000"/>
<text x="637" y="943.6" class="ax">16 Jul 00:00</text>
<rect x="702" y="932" width="1" height="3" fill="#000"/>
<text x="701" y="943.6" class="ax">16 Jul 16:00</text>
<rect x="766" y="932" width="1" height="3" fill="#000"/>
<text x="765" y="943.6" class="ax">17 Jul 08:00</text>
<rect x="830" y="932" width="1" height="3" fill="#000"/>
<text x="829" y="943.6" class="ax">18 Jul 00:00</text>
<rect x="894" y="932" width="1" height="3" fill="#000"/>
<text x="893" y="943.6" class="ax">18 Jul 16:00</text>
<rect x="958" y="932" width="1" height="3" fill="#000"/>
<text x="957" y="943.6" class="ax">19 Jul 08:00</text>
<rect x="1022" y="932" width="1" height="3" fill="#000"/>
<text x="1021" y="943.6" class="ax">21 Jul 23:00</text>
<rect x="1086" y="932" width="1" height="3" fill="#000"/>
<text x="1085" y="943.6" class="ax">22 Jul 12:00</text>
<rect x="1150" y="932" width="1" height="3" fill="#000"/>
<text x="1149" y="943.6" class="ax">23 Jul 04:00</text>
<rect x="1214" y="932" width="1" height="3" fill="#000"/>
<text x="1213" y="943.6" class="ax">23 Jul 20:00</text>
<rect x="1278" y="932" width="1" height="3" fill="#000"/>
<text x="1277" y="943.6" class="ax">24 Jul 12:00</text>
<rect x="1342" y="932" width="1" height="3" fill="#000"/>
<text x="1341" y="943.6" class="ax">25 Jul 04:00</text>
<rect x="1406" y="932" width="1" height="3" fill="#000"/>
<text x="1405" y="943.6" class="ax">25 Jul 20:00</text>
</svg>
<div class="t" style="left:2px;top:590px;font-size:9.5px;line-height:11px">MACD(12,26,9) -21.91 5.25</div>
<div class="t" style="left:2px;top:775px;font-size:9.5px;line-height:11px">RSI(14) 38.7723</div>
<svg width="10" height="8" style="left:1px;top:36px"><polygon points="0,6 7,6 3.5,1.5" fill="#000"/></svg>
<div class="t" id="hdr">DJ30-,H4&nbsp; 27082.0 27082.0 27082.0 27082.0</div>
<div class="t" id="kai">多空转折点</div>
<div class="t" id="pl">27134.3</div>
<div id="one">
<div class="rb" style="left:0;top:0;width:52px;height:26px"></div>
<div class="rb" style="left:167px;top:0;width:52px;height:26px"></div>
<div style="position:absolute;left:0;top:24px;width:109px;height:40px;background:linear-gradient(#d93030,#a80000)"></div>
<div style="position:absolute;left:111px;top:24px;width:108px;height:40px;background:linear-gradient(#d93030,#a80000)"></div>
<div style="position:absolute;left:4px;top:23px;width:44px;height:1px;background:#f99"></div>
<div style="position:absolute;left:171px;top:23px;width:44px;height:1px;background:#f99"></div>
<div class="lab" style="left:12px;top:5.5px">SELL</div>
<div class="lab" style="left:180.5px;top:5.5px">BUY</div>
<div style="position:absolute;left:54px;top:0;width:111px;height:22px;border:1px solid #adadad;background:#fff"></div>
<div style="position:absolute;left:55px;top:1px;width:21px;height:20px;background:#e6e6e6;border-right:1px solid #adadad"></div>
<div style="position:absolute;left:143px;top:1px;width:21px;height:20px;background:#e6e6e6;border-left:1px solid #adadad"></div>
<div style="position:absolute;left:62px;top:9px;width:0;height:0;border-left:3px solid transparent;border-right:3px solid transparent;border-top:3px solid #000"></div>
<div style="position:absolute;left:151px;top:9px;width:0;height:0;border-left:3px solid transparent;border-right:3px solid transparent;border-bottom:3px solid #000"></div>
<div class="t" style="left:76px;top:3px;width:64px;text-align:right;font-size:12px;line-height:15px;color:#111">1.00</div>
<div class="sm" style="left:16.5px;top:44.5px">27080</div>
<div class="big" style="left:54px;top:27px">.5</div>
<div class="sm" style="left:126.5px;top:44.5px">27089</div>
<div class="big" style="left:164.5px;top:27px">.5</div>
</div>
<div id="tb"><div class="sh1"></div><div class="sh2"></div><div class="wh"></div>
<div class="frm" style="left:261px;width:25px"></div>
<div class="frm" style="left:413px;width:25px"></div>
<div class="frm" style="left:441px;width:25px"></div>
<div class="frm" style="left:601px;width:26px"></div>
<div class="frm" style="left:1047px;width:26px"></div>
<div class="sep" style="left:223px"></div><div class="grip" style="left:227px"></div>
<div class="sep" style="left:318px"></div>
<div class="sep" style="left:408px"></div>
<div class="sep" style="left:470px"></div>
<div class="sep" style="left:591px"></div><div class="grip" style="left:595px"></div>
<div class="sep" style="left:658px"></div>
<div class="sep" style="left:897px"></div><div class="grip" style="left:901px"></div>
<div class="sep" style="left:1158px"></div>
<div class="dd" style="left:502px"></div><div class="dd" style="left:541px"></div><div class="dd" style="left:580px"></div><div class="dd" style="left:886px"></div>
<div class="t" style="left:16px;top:6px;font-size:12px;line-height:15px">新订单</div>
<div class="t" style="left:168px;top:6px;font-size:12px;line-height:15px">自动交易</div>
<div class="tf" style="left:912px">M1</div><div class="tf" style="left:940px">M5</div><div class="tf" style="left:966px">M15</div><div class="tf" style="left:995px">M30</div><div class="tf" style="left:1025px">H1</div><div class="tf" style="left:1052px">H4</div><div class="tf" style="left:1081px">D1</div><div class="tf" style="left:1109px">W1</div><div class="tf" style="left:1136px">MN</div>
<div class="t" style="left:811.5px;top:7.5px;font-size:12.5px;line-height:15px;color:#333">A</div>
<div class="t" style="left:840px;top:8px;font-size:12px;line-height:14px;font-weight:bold;color:#555">T</div>
<div class="t" style="left:763px;top:17px;font-size:6.5px;line-height:8px;font-weight:bold;color:#444">E</div>
<div class="t" style="left:790.5px;top:17px;font-size:6.5px;line-height:8px;font-weight:bold;color:#444">F</div>
<svg width="1673" height="28" viewBox="0 0 1673 28" style="left:0;top:-1px">
<defs>
<linearGradient id="gold" x1="0" y1="0" x2="1" y2="1"><stop offset="0" stop-color="#ffe066"/><stop offset="0.5" stop-color="#e6b422"/><stop offset="1" stop-color="#b87a0a"/></linearGradient>
<linearGradient id="blu" x1="0" y1="0" x2="0" y2="1"><stop offset="0" stop-color="#4aa8f0"/><stop offset="1" stop-color="#1460c8"/></linearGradient>
<linearGradient id="ring" x1="0" y1="0" x2="1" y2="1"><stop offset="0" stop-color="#3c98f0"/><stop offset="1" stop-color="#0c48b0"/></linearGradient>
<radialGradient id="lens"><stop offset="0" stop-color="#f4faff"/><stop offset="1" stop-color="#c4def4"/></radialGradient>
</defs>
<!-- new order -->
<g><path d="M-4 8.500h9l3.500 3.500v8h-12.500z" fill="#fdfdfd" stroke="#a8a8a8" stroke-width="1"/><path d="M-2 11h5M-2 13.500h8M-2 16h4" stroke="#9a9a9a" stroke-width="1.200"/>
<path d="M5.200 13h3v4h4.300v3h-4.300v4h-3v-4h-4.200v-3h4.200z" fill="#35dc35" stroke="#0c8c0c" stroke-width="1"/></g>
<!-- book -->
<path d="M68.500 8.200l11.500 7.900-8.300 6.900-7.900-6.100z" fill="url(#gold)" stroke="#a06a08" stroke-width="0.800"/><path d="M63.800 16.900l7.900 6.100 8.300-6.900v1.600l-8.300 6.900-7.900-6.100z" fill="#c88a10"/><path d="M68.500 8.800l-3.800 7.600" stroke="#fff0a0" stroke-width="1"/>
<!-- server cloud -->
<path d="M94 8.700l3.200-1.900h8.300v10.200h-8.300l-3.200-1z" fill="#1c80e8"/><path d="M94 8.700l3.200-1.900v10.200l-3.200-1z" fill="#0c5cc0"/><rect x="98.200" y="8.300" width="6.300" height="7.700" fill="#dff0ff"/><path d="M99 10h4.800M99 12h4.800" stroke="#2a8ae8" stroke-width="1"/>
<path d="M95 22.600a2.700 2.700 0 0 1-0.300-5.400a3.600 3.600 0 0 1 6.600-1.300a3 3 0 0 1 4.600 2a2.400 2.400 0 0 1-0.400 4.700z" fill="#eef4fb" stroke="#7a9ccc" stroke-width="0.900"/>
<!-- signal -->
<g fill="none"><path d="M128 15l7.300 0a7.300 7.300 0 0 1-7.300 7.300z" fill="#7cc47c"/><path d="M128 15l4.600 0a4.600 4.600 0 0 1-4.600 4.600z" fill="#a8d8a8"/>
<circle cx="128" cy="15" r="7.200" stroke="#a8c0e4" stroke-width="1.300" stroke-dasharray="2.500 0.800"/><circle cx="128" cy="15" r="4.500" stroke="#6a94d8" stroke-width="1.300"/>
<path d="M128 22.200a7.200 7.200 0 0 0 7.200-7.200" stroke="#4aa04a" stroke-width="1.500"/>
<circle cx="127.700" cy="14.600" r="1.800" fill="#2858d0"/><path d="M128.400 15v7.600" stroke="#18a018" stroke-width="1.600"/></g>
<!-- autotrade -->
<path d="M148.500 14l14.500-0.500-4.500 6.500-2.500 3.500-3-1.500z" fill="#f4cc3c" stroke="#c89010" stroke-width="0.700"/>
<path d="M147 12.600c0.500-1.600 3-2.200 4.600-2.400 0.300-4.200 6.800-4.200 7.200 0 1.800 0.200 4.200 0.800 4.600 2.400-2.500 2.600-13.500 2.600-16.400 0z" fill="#4aa0dc" stroke="#2a78b8" stroke-width="0.700"/><path d="M152.500 9.500c1-2.500 4.500-2.500 5.500 0z" fill="#8cc8f0"/>
<circle cx="159.500" cy="18.800" r="4" fill="#d82020"/><rect x="158" y="17.300" width="3" height="3" fill="#fff"/>
<!-- bar chart icon -->
<g transform="translate(239,8)"><g fill="none" stroke="#555" stroke-width="1.2"><path d="M2.5 1v14M0 12.500h14"/><path d="M1 3l1.500-2.500L4 3M11.500 11l2.500 1.500-2.500 1.500" stroke-width="1"/></g></g><path d="M247.800 10.500v8.500M247.800 11.500h2.500M245.200 17.500h2.600" stroke="#0a8a0a" stroke-width="1.400" fill="none"/>
<!-- candle icon -->
<g transform="translate(267,8)"><g fill="none" stroke="#555" stroke-width="1.2"><path d="M2.5 1v14M0 12.500h14"/><path d="M1 3l1.500-2.500L4 3M11.500 11l2.500 1.500-2.500 1.500" stroke-width="1"/></g></g><path d="M275.500 7.200v11.800" stroke="#0a8a0a" stroke-width="1.200"/><rect x="273" y="9.500" width="5" height="7" fill="#2ee02e" stroke="#0a9a0a" stroke-width="0.9"/>
<!-- line chart icon -->
<g transform="translate(295,8)"><g fill="none" stroke="#555" stroke-width="1.2"><path d="M2.5 1v14M0 12.500h14"/><path d="M1 3l1.500-2.500L4 3M11.500 11l2.500 1.500-2.500 1.500" stroke-width="1"/></g></g><path d="M296 17.500c3-2 4-5.500 6-5.500s3 3 5.500 4" stroke="#2a9a2a" stroke-width="1.300" fill="none"/>
<!-- zoom in -->
<path d="M336.500 17.500l6 4" stroke="#b8901a" stroke-width="3.400" stroke-linecap="round"/><path d="M336.800 17.300l5.700 3.800" stroke="#f0d050" stroke-width="1.600" stroke-linecap="round"/>
<circle cx="333" cy="13" r="5.600" fill="url(#lens)" stroke="#3a78c8" stroke-width="1.500"/><path d="M330 13h6M333 10v6" stroke="#4a88c0" stroke-width="1.700"/>
<!-- zoom out -->
<path d="M364.500 17.500l6 4" stroke="#b8901a" stroke-width="3.400" stroke-linecap="round"/><path d="M364.800 17.300l5.700 3.800" stroke="#f0d050" stroke-width="1.600" stroke-linecap="round"/>
<circle cx="361" cy="13" r="5.600" fill="url(#lens)" stroke="#3a78c8" stroke-width="1.500"/><path d="M358 13h6" stroke="#4a88c0" stroke-width="1.700"/>
<!-- tile -->
<g><rect x="383" y="7" width="8" height="8" fill="#3a9a1a"/><rect x="391" y="7" width="8" height="8" fill="#1c50d0"/><rect x="383" y="15" width="8" height="8" fill="#1c50d0"/><rect x="391" y="15" width="8" height="8" fill="#3a9a1a"/>
<path d="M384.500 10h5.500v3.500h-5.500zM392.500 10h5.500v3.500h-5.500zM384.500 18h5.500v3.500h-5.500zM392.500 18h5.500v3.500h-5.500z" fill="#f4f8ff"/></g>
<!-- autoscroll -->
<g transform="translate(419,8)"><g fill="none" stroke="#555" stroke-width="1.2"><path d="M2.5 1v14M0 12.500h14"/><path d="M1 3l1.500-2.500L4 3M11.500 11l2.500 1.500-2.500 1.500" stroke-width="1"/></g></g><path d="M425.700 10.800v7.200l4.400-3.600z" fill="#4ae44a" stroke="#0a8a0a" stroke-width="0.9"/>
<!-- chart shift -->
<g transform="translate(447,8)"><g fill="none" stroke="#555" stroke-width="1.2"><path d="M2.5 1v14M0 12.500h14"/><path d="M1 3l1.500-2.500L4 3M11.500 11l2.500 1.500-2.500 1.500" stroke-width="1"/></g></g><path d="M455.500 9v9.500" stroke="#1a6aa8" stroke-width="1.300"/><path d="M456.500 14.500h4.500M458.800 12.500l-2.300 2 2.300 2" stroke="#e04a10" stroke-width="1.200" fill="none"/>
<!-- indicators -->
<path d="M480.500 7.500h7l3.500 3.500v9.500h-10.500z" fill="#fafafa" stroke="#8a8a8a" stroke-width="0.9"/><path d="M484 11c-1.500 0-1.500 1-1.500 2.500v3M482 14h3" stroke="#555" stroke-width="0.9" fill="none"/>
<path d="M488.500 13.500h3v3.700h4v3h-4v3.800h-3v-3.800h-4v-3h4z" fill="#35dc35" stroke="#0c8c0c" stroke-width="1"/>
<!-- clock -->
<circle cx="526" cy="14.800" r="6.600" fill="#f2f6fa" stroke="url(#ring)" stroke-width="2.600"/><path d="M526 10.300v4.500l2.600 1.200" stroke="#333" stroke-width="1.100" fill="none"/><path d="M526 9.300v0.800M526 19.400v0.900M520.600 14.800h0.800M530.600 14.800h0.800" stroke="#8a9ab0" stroke-width="0.800"/>
<!-- template -->
<rect x="557.500" y="8.500" width="15" height="13.500" fill="#fff" stroke="#2a68c8" stroke-width="1.200"/><rect x="557.500" y="8.500" width="15" height="2.200" fill="#5a9ce4"/><path d="M558 16.200h14.500" stroke="#2a68c8" stroke-width="1"/>
<path d="M559.500 14.600l2-0.300 1.800-1.600 2 0.900 2-1.300 1.600 0.400 1.800-0.900" stroke="#a82410" stroke-width="1.300" fill="none"/><path d="M559.800 19.800l2-0.800 1.800 0.700 2.200-1.900 1.400 0.200 1.600 1.600 1.300-0.200" stroke="#168a16" stroke-width="1.300" fill="none"/>
<!-- cursor -->
<path d="M609.100 8.100v10.500l2.700-2.300 2.600 5.500 1.400-0.800-2.400-5.200 3.900-0.500z" fill="#444"/>
<!-- crosshair -->
<path d="M634 15.500h6.500M642.500 15.500h6.500M641.500 8v6.500M641.500 16.500v6.500" stroke="#444" stroke-width="1" shape-rendering="crispEdges"/><rect x="641" y="15" width="1" height="1" fill="#444"/>
<!-- v/h/trend lines -->
<path d="M675.500 9v13M698 15.500h12" stroke="#444" stroke-width="1" shape-rendering="crispEdges"/><path d="M725.800 22l12.200-12.200" stroke="#444" stroke-width="1.100"/>
<!-- channel -->
<g stroke="#555" stroke-width="1" fill="none"><path d="M751.500 16.500l13-9M753 19.500l13-9M755 22l11-8"/><path d="M755 13.500l2 7M758.500 11l2 7.500M762 8l2 8"/></g>
<!-- fibo -->
<path d="M781 8.500h13M781 12h13M781 15.800h13M781 19.600h9" stroke="#555" stroke-width="1" stroke-dasharray="1 1" shape-rendering="crispEdges"/>
<!-- text label frame -->
<rect x="838" y="9.500" width="11.500" height="12" fill="none" stroke="#555" stroke-width="1" stroke-dasharray="1 1" shape-rendering="crispEdges"/>
<!-- arrows -->
<path d="M868.500 8.500l3 3.200-3 2.300-3-2.300zM875.800 16l3 2.500-3 3.200-3-3.200z" fill="#444"/><path d="M867 16.500l1.800 2 4.500-5" stroke="#444" stroke-width="1.200" fill="none"/>
<!-- search -->
<circle cx="1629.500" cy="11.500" r="3.600" fill="#f4f8ff" stroke="#2a5ad8" stroke-width="1.500"/><path d="M1627 14.500l-5.500 5.500" stroke="#2a5ad8" stroke-width="2.200" stroke-linecap="round"/>
<!-- chat -->
<ellipse cx="1661.500" cy="12" rx="6" ry="5" fill="#f0f0f0" stroke="#a8a8a8" stroke-width="0.900"/><path d="M1663 16.500l2 2.500v-3z" fill="#e8e8e8" stroke="#a8a8a8" stroke-width="0.700"/>
<ellipse cx="1652.500" cy="16" rx="4.500" ry="3.600" fill="#f4f4f4" stroke="#a0a0a0" stroke-width="0.900"/><path d="M1650.500 19l-1.500 2.500 3-2z" fill="#e8e8e8" stroke="#a0a0a0" stroke-width="0.700"/>
</svg>
</div>

</body></html>
